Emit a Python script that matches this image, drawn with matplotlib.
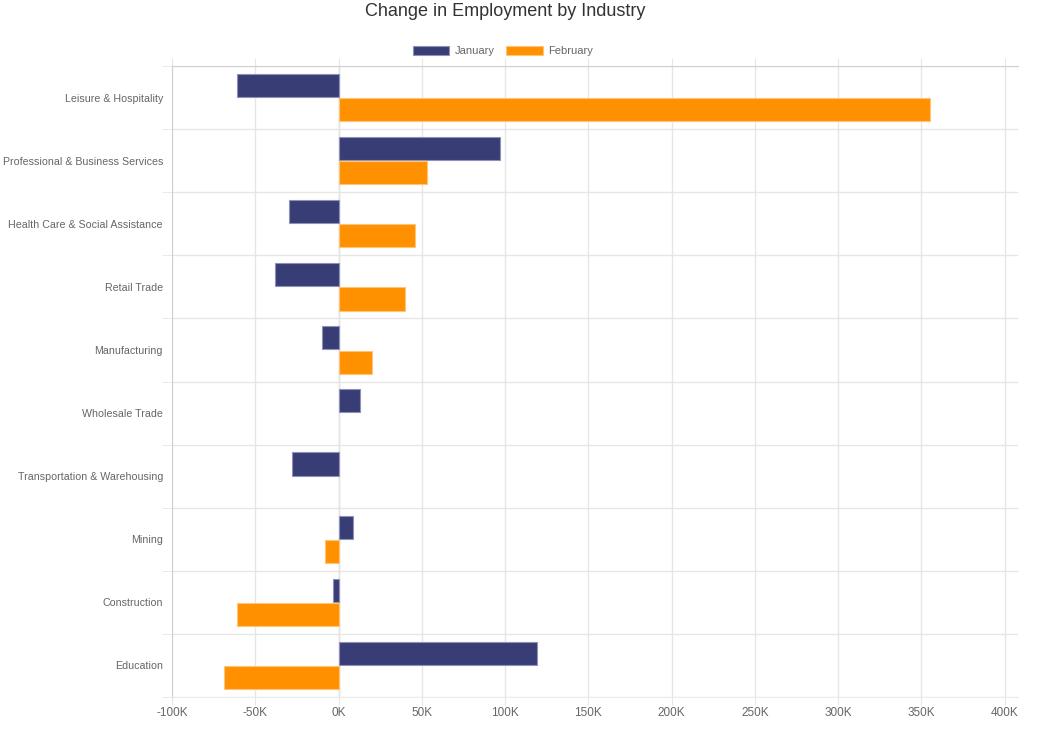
import matplotlib.pyplot as plt
import numpy as np
from matplotlib.ticker import FuncFormatter

industries = [
    "Leisure & Hospitality",
    "Professional & Business Services",
    "Health Care & Social Assistance",
    "Retail Trade",
    "Manufacturing",
    "Wholesale Trade",
    "Transportation & Warehousing",
    "Mining",
    "Construction",
    "Education",
]
january = [-61000, 97000, -30000, -38000, -10000, 13000, -28000, 8600, -3400, 119000]
february = [355000, 53000, 46000, 40000, 20000, 0, 0, -8200, -61000, -69000]

series_names = ["January", "February"]
series_colors = ["#383e75", "#ff9100"]
edge_colors = ["#8e92b8", "#ffc47a"]

plt.rcParams["font.family"] = ["Liberation Sans", "DejaVu Sans"]

fig = plt.figure(figsize=(10.37, 7.31), dpi=100)
ax = fig.add_axes((172 / 1037, 1 - 697 / 731, (1018 - 172) / 1037, (697 - 66) / 731))

y = np.arange(len(industries))
bar_h = 0.365
gap = 0.02
bars = []
for i, (vals, col, ec) in enumerate(zip([january, february], series_colors, edge_colors)):
    offs = -(bar_h + gap) / 2 if i == 0 else (bar_h + gap) / 2
    lw = [0.8 if v != 0 else 0 for v in vals]
    b = ax.barh(y + offs, vals, height=bar_h, color=col, edgecolor=ec,
                linewidth=lw, zorder=3, label=series_names[i])
    bars.append(b)

ax.set_ylim(len(industries) - 0.5, -0.5)
ax.set_xlim(-100000, 408000)
ax.set_xticks(np.arange(-100000, 400001, 50000))
ax.xaxis.set_major_formatter(FuncFormatter(lambda v, p: f"{int(v / 1000)}K"))

ax.set_yticks(y)
ax.set_yticklabels(industries)
ax.set_yticks(np.arange(-0.5, len(industries), 1), minor=True)

ax.grid(True, axis="x", which="major", color="#e6e6e6", linewidth=1, zorder=0)
ax.grid(True, axis="y", which="minor", color="#e6e6e6", linewidth=1, zorder=0)
ax.axvline(0, color="#cfcfcf", linewidth=1, zorder=1)

ax.spines["right"].set_visible(False)
ax.spines["top"].set_color("#d0d0d0")
ax.spines["left"].set_color("#d0d0d0")
ax.spines["bottom"].set_color("#ececec")

ax.tick_params(axis="x", which="major", length=6, color="#e6e6e6", labelsize=8.5,
               labelcolor="#666666", pad=1.5, direction="out", top=True)
ax.tick_params(axis="y", which="major", length=0, labelsize=7.7, labelcolor="#666666", pad=6.5)
ax.tick_params(axis="y", which="minor", length=7, color="#e6e6e6")

fig.text(505 / 1037, 1 - 12 / 731, "Change in Employment by Industry", ha="center",
         va="center", fontsize=13, color="#333333")

fig.legend(handles=bars, labels=series_names, loc="center", bbox_to_anchor=(503 / 1037, 1 - 51 / 731),
           ncol=2, frameon=False, fontsize=8, labelcolor="#666666", handlelength=3.3,
           handleheight=0.9, handletextpad=0.5, columnspacing=1.0)

fig.savefig("out.png", dpi=100)
